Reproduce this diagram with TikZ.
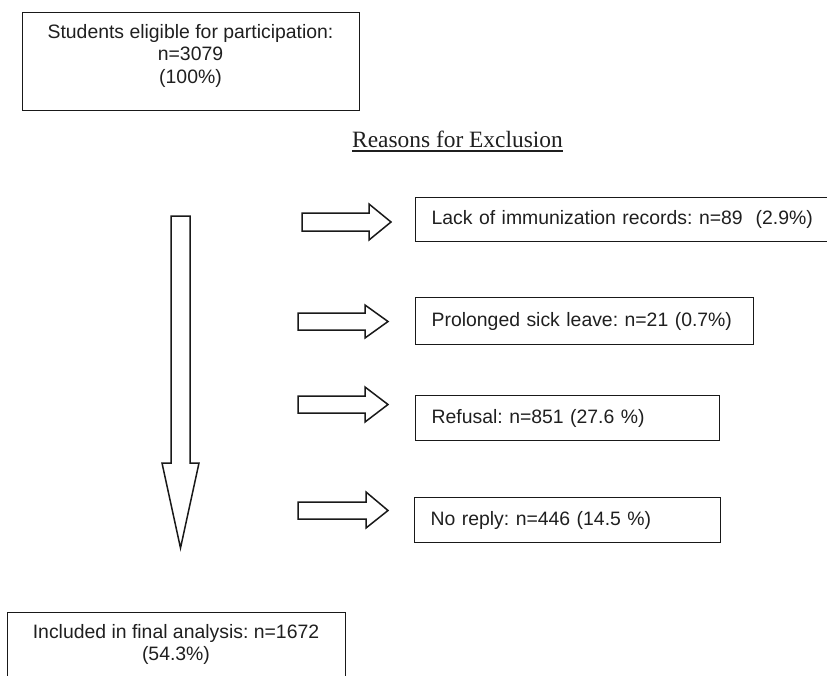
\documentclass[tikz,border=0pt]{standalone}
\usepackage{fontspec}
\setmainfont{Liberation Sans}
\newfontfamily\timesf{Liberation Serif}
\frenchspacing
\begin{document}
\frenchspacing
\begin{tikzpicture}[x=1pt,y=-1pt,
  box/.style={draw=black!90, line width=1.3pt, inner sep=0pt},
  txt/.style={font={\fontsize{19.4}{22.5}\selectfont}, text=black!88, inner sep=0pt},
  exbox/.style={box, anchor=north west, minimum height=44pt, inner xsep=16pt, align=left,
    font={\fontsize{19.4}{22.5}\selectfont}, text=black!88},
  blk/.style={draw=black!90, line width=1.5pt, fill=white, line join=miter}]
\useasboundingbox (0,0) rectangle (827,675);
\clip (0,0) rectangle (827,675);
% top box
\node[box, minimum width=337pt, minimum height=98pt, anchor=north west] (elig) at (22,12) {};
\node[txt, align=center, anchor=north] (eligt) at (190.5,24) {Students eligible for participation:\\n=3079\\(100\%)};
% title
\node[font={\timesf\fontsize{23.4}{28}\selectfont}, inner sep=0pt, anchor=base, text=black!88] (title) at (457.5,147) {Reasons for Exclusion};
\draw[line width=1.3pt, black!88] ([yshift=-4pt]title.base west) -- ([yshift=-4pt]title.base east);
% vertical block arrow
\draw[blk] (171,216) -- (190,216) -- (190,463) -- (199,463) -- (180.5,548) -- (162,463) -- (171,463) -- cycle;
% horizontal block arrows
\draw[blk] (302,213) -- (369,213) -- (369,204) -- (391,222) -- (369,240) -- (369,231) -- (302,231) -- cycle;
\draw[blk] (298,313) -- (365,313) -- (365,305) -- (388,321.5) -- (365,338) -- (365,330) -- (298,330) -- cycle;
\draw[blk] (298,396) -- (365,396) -- (365,387) -- (388,404.5) -- (365,422) -- (365,413) -- (298,413) -- cycle;
\draw[blk] (298,502) -- (366,502) -- (366,492) -- (388,510.5) -- (366,528) -- (366,519) -- (298,519) -- cycle;
% exclusion boxes
\node[exbox, minimum width=445pt, text width=413pt] (lack) at (415,197) {Lack of immunization records: n=89~~(2.9\%)};
\node[exbox, minimum width=338pt, minimum height=47pt, text width=306pt] (sick) at (415,297) {Prolonged sick leave: n=21 (0.7\%)};
\node[exbox, minimum width=304pt, minimum height=45pt, text width=272pt] (refus) at (415,395) {Refusal: n=851 (27.6 \%)};
\node[exbox, minimum width=306pt, minimum height=45pt, text width=274pt] (norep) at (414,497) {No reply: n=446 (14.5 \%)};
% final box
\node[box, minimum width=338pt, minimum height=90pt, anchor=north west] (incl) at (7,612) {};
\node[txt, align=center, anchor=north] (inclt) at (176,624) {Included in final analysis: n=1672\\(54.3\%)};
\end{tikzpicture}
\end{document}
